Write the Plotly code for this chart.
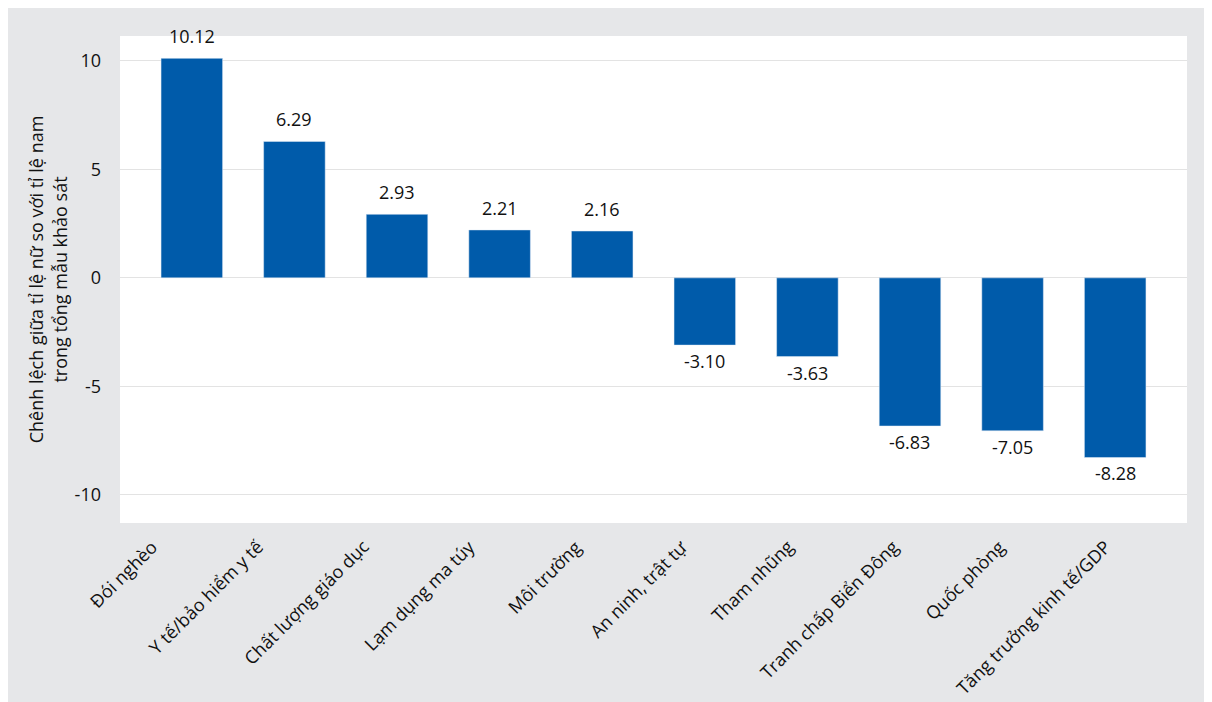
import plotly.graph_objects as go

categories = ["Đói nghèo", "Y tế/bảo hiểm y tế", "Chất lượng giáo dục", "Lạm dụng ma túy",
              "Môi trường", "An ninh, trật tự", "Tham nhũng", "Tranh chấp Biển Đông",
              "Quốc phòng", "Tăng trưởng kinh tế/GDP"]
values = [10.12, 6.29, 2.93, 2.21, 2.16, -3.10, -3.63, -6.83, -7.05, -8.28]
y_ticks = [-10, -5, 0, 5, 10]
y_ticktext = ["-10", "-5", "0", "5", "10"]
y_title = "Chênh lệch giữa tỉ lệ nữ so với tỉ lệ nam<br>trong tổng mẫu khảo sát"

FONT = "Open Sans"
GREY = "#E6E7E9"
BLUE = "#005BAA"
TXT = "#111111"
FS = 18

W, H = 1204, 694
L, R, T, B = 112, 25, 28, 179
pw, ph = W - L - R, H - T - B

fig = go.Figure(go.Bar(x=categories, y=values, marker_color=BLUE, width=0.6,
                       hoverinfo="x+y"))

annotations = []
# value labels
for c, v in zip(categories, values):
    annotations.append(dict(
        x=c, y=v, xref="x", yref="y", text=f"{v:.2f}", showarrow=False,
        yanchor="bottom" if v >= 0 else "top",
        yshift=8 if v >= 0 else -2,
        font=dict(family=FONT, size=FS, color=TXT)))
# rotated category labels
n = len(categories)
for i, c in enumerate(categories):
    annotations.append(dict(
        x=c, y=-9 / ph, xref="x", yref="paper", text=c, showarrow=False,
        textangle=-45, xanchor="right", yanchor="top",
        xshift=-27 + 30 * i / (n - 1),
        font=dict(family=FONT, size=FS, color=TXT)))

fig.update_layout(
    width=W, height=H,
    margin=dict(l=L, r=R, t=T, b=B, autoexpand=False),
    paper_bgcolor=GREY, plot_bgcolor="white",
    font=dict(family=FONT, size=FS, color=TXT),
    showlegend=False,
    xaxis=dict(range=[-0.7, 9.7], showticklabels=False, showgrid=False,
               zeroline=False, showline=False, ticks=""),
    yaxis=dict(range=[-11.3, 11.15], tickvals=y_ticks, ticktext=y_ticktext,
               showgrid=True, gridcolor="#E3E3E3", gridwidth=1, zeroline=False,
               showline=False, ticks="", ticklabelstandoff=18,
               tickfont=dict(size=FS),
               title=dict(text=y_title, font=dict(size=FS), standoff=2)),
    annotations=annotations,
)

fig.write_html("out.html")
